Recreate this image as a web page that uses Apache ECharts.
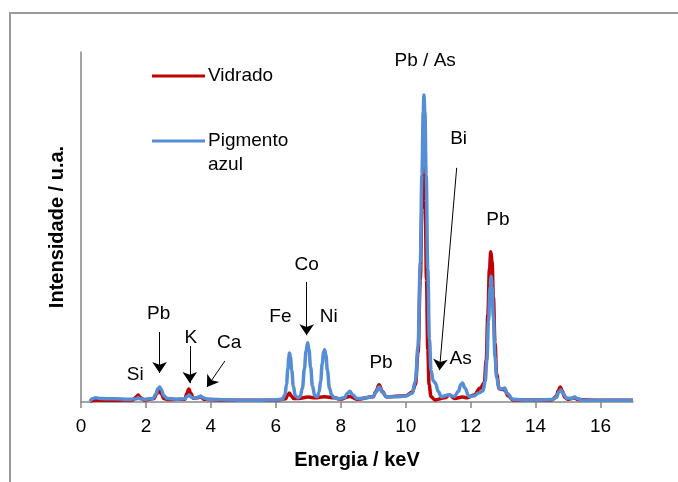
<!DOCTYPE html>
<html>
<head>
<meta charset="utf-8">
<script src="https://cdn.jsdelivr.net/npm/echarts@6/dist/echarts.min.js"></script>
<style>
  html, body { margin: 0; padding: 0; background: #fff; }
  #chart { width: 678px; height: 482px; }
</style>
</head>
<body>
<div id="chart"></div>
<script>
// XRF spectrum: glaze ("Vidrado") vs blue pigment ("Pigmento azul").
// x = energy (keV), y = intensity in arbitrary units (0..100 of axis height).

const ENERGY_TICKS = [0, 2, 4, 6, 8, 10, 12, 14, 16];

const vidrado = [
  [0.28, 0.2], [0.4, 0.5], [1.0, 0.5], [1.6, 0.6], [1.7, 1.4], [1.76, 2.0], [1.82, 1.3], [1.95, 0.6],
  [2.25, 1.0], [2.33, 2.4], [2.4, 3.4], [2.47, 2.4], [2.55, 1.0], [2.7, 0.7], [3.2, 0.8], [3.26, 2.4],
  [3.32, 3.7], [3.38, 2.5], [3.46, 1.1], [3.6, 1.2], [3.68, 1.5], [3.78, 0.8], [4.5, 0.5], [6.0, 0.5],
  [6.3, 0.9], [6.37, 2.0], [6.42, 2.6], [6.47, 1.8], [6.55, 1.0], [6.7, 1.0], [7.0, 1.4], [7.2, 1.2],
  [7.5, 1.5], [7.8, 1.2], [8.0, 0.8], [8.28, 1.6], [8.5, 0.8], [9.0, 1.5], [9.08, 3.0], [9.18, 4.9],
  [9.28, 3.0], [9.4, 1.5], [10.0, 1.8], [10.2, 2.8], [10.3, 5], [10.38, 14], [10.45, 35], [10.5, 55],
  [10.54, 64], [10.57, 66.9], [10.6, 58], [10.64, 35], [10.68, 15], [10.72, 5], [10.78, 1.5], [10.9, 0.6],
  [11.2, 1.2], [11.35, 2.0], [11.5, 1.0], [11.75, 1.4], [11.9, 1.2], [12.1, 2.0], [12.3, 4.0], [12.42, 5.5],
  [12.48, 12], [12.53, 25], [12.58, 38], [12.62, 42.9], [12.66, 40], [12.7, 30], [12.75, 17], [12.8, 8],
  [12.88, 3.8], [13.05, 3.5], [13.15, 1.8], [13.3, 0.6], [14.5, 0.6], [14.64, 1.6], [14.7, 3.2], [14.76, 4.3],
  [14.82, 3.2], [14.9, 1.3], [15.0, 0.8], [15.2, 1.2], [15.3, 0.7], [16.0, 0.5], [17.0, 0.5]
];

const pigmentoAzul = [
  [0.28, 0.2], [0.35, 0.9], [0.45, 1.2], [0.6, 1.0], [1.0, 0.9], [1.5, 0.8], [1.7, 0.9], [1.76, 1.2],
  [1.82, 0.9], [2.0, 0.8], [2.22, 1.0], [2.3, 2.2], [2.37, 3.8], [2.42, 4.3], [2.47, 3.6], [2.55, 1.8],
  [2.65, 1.0], [2.9, 0.8], [3.2, 0.9], [3.27, 1.6], [3.33, 2.0], [3.4, 1.3], [3.55, 1.0], [3.63, 1.5],
  [3.69, 1.7], [3.76, 1.2], [3.9, 0.8], [4.5, 0.6], [5.0, 0.5], [5.5, 0.5], [6.0, 0.6], [6.2, 0.8],
  [6.28, 2], [6.33, 5], [6.37, 9.5], [6.4, 12.8], [6.42, 14.0], [6.45, 12.8], [6.49, 9], [6.54, 4.5],
  [6.6, 1.8], [6.68, 1.2], [6.75, 1.6], [6.82, 4], [6.88, 9.5], [6.93, 14.5], [6.98, 16.9], [7.02, 15],
  [7.07, 10], [7.13, 4.5], [7.2, 1.8], [7.28, 1.6], [7.33, 2.8], [7.38, 6], [7.43, 11], [7.47, 14.2],
  [7.5, 14.9], [7.54, 13.5], [7.59, 9], [7.65, 4], [7.72, 2], [7.8, 1.2], [7.95, 0.9], [8.12, 1.3],
  [8.2, 2.4], [8.28, 3.1], [8.36, 2.1], [8.5, 1.0], [8.8, 1.2], [9.0, 1.6], [9.08, 2.8], [9.18, 4.3],
  [9.28, 2.8], [9.4, 1.5], [9.7, 1.5], [10.0, 1.7], [10.2, 2.5], [10.3, 6], [10.38, 16], [10.45, 40],
  [10.5, 65], [10.54, 83], [10.56, 87.7], [10.59, 83], [10.63, 65], [10.68, 38], [10.73, 18], [10.78, 9],
  [10.85, 6], [10.92, 5.3], [11.0, 3], [11.1, 1.5], [11.3, 2.0], [11.5, 1.6], [11.62, 3], [11.7, 5],
  [11.75, 5.4], [11.82, 4], [11.95, 1.6], [12.1, 1.7], [12.25, 2.6], [12.38, 3.2], [12.45, 6], [12.5, 12],
  [12.55, 23], [12.6, 33], [12.63, 36], [12.66, 33], [12.7, 24], [12.75, 13], [12.8, 7], [12.88, 3.8],
  [12.98, 3.8], [13.05, 4], [13.12, 2.5], [13.3, 0.8], [13.6, 0.6], [14.0, 0.6], [14.5, 0.7], [14.64, 1.3],
  [14.71, 2.8], [14.78, 3.4], [14.85, 2.4], [14.95, 1.1], [15.1, 1.0], [15.2, 1.4], [15.3, 0.9], [15.45, 0.5],
  [16.0, 0.5], [17.0, 0.5]
];

// element labels, anchored in data space [keV, intensity]
const peakLabels = [
  ['Si', 1.67, 7.7], ['Pb', 2.39, 25.1], ['K', 3.38, 18.3], ['Ca', 4.56, 16.9],
  ['Fe', 6.14, 24.3], ['Co', 6.95, 39.1], ['Ni', 7.63, 24.3], ['Pb', 9.24, 11.1],
  ['Pb / As', 10.6, 97.4], ['Bi', 11.63, 75.1], ['As', 11.69, 12.3], ['Pb', 12.84, 52]
];

// pointer arrows: [fromKeV, fromY, toKeV, toY]
const arrows = [
  [2.42, 20, 2.42, 8.3], [3.35, 16, 3.35, 5.4], [4.43, 11.7, 3.88, 4.3],
  [6.95, 34.3, 6.95, 19.1], [11.57, 66.9, 11.04, 9.1]
];

const FONT = '"Liberation Sans", Arial, sans-serif';
const RED = '#C00000';
const BLUE = '#558ED5';
const AXIS = '#868686';

const chart = echarts.init(document.getElementById('chart'), null, { renderer: 'canvas' });

chart.setOption({
  animation: false,
  backgroundColor: '#fff',
  textStyle: { fontFamily: FONT },
  grid: { left: 81, right: 45, top: 52, bottom: 80 },
  xAxis: {
    type: 'value', min: 0, max: 17, interval: 2,
    name: 'Energia / keV', nameLocation: 'middle', nameGap: 48,
    nameTextStyle: { color: '#000', fontSize: 20, fontWeight: 'bold', fontFamily: FONT },
    axisLine: { onZero: false, lineStyle: { color: AXIS, width: 1.5 } },
    axisTick: { length: 6, lineStyle: { color: AXIS, width: 1.5 }, customValues: ENERGY_TICKS },
    axisLabel: { color: '#000', fontSize: 19, margin: 15, fontFamily: FONT, customValues: ENERGY_TICKS },
    splitLine: { show: false }
  },
  yAxis: {
    type: 'value', min: 0, max: 100,
    name: 'Intensidade / u.a.', nameLocation: 'middle', nameGap: 14,
    nameTextStyle: { color: '#000', fontSize: 20, fontWeight: 'bold', fontFamily: FONT },
    axisLine: { show: true, lineStyle: { color: AXIS, width: 1.5 } },
    axisTick: { show: false }, axisLabel: { show: false }, splitLine: { show: false }
  },
  series: [
    {
      name: 'Vidrado', type: 'line', data: vidrado, showSymbol: false,
      smooth: 0.4, smoothMonotone: 'x',
      lineStyle: { color: RED, width: 3.5 }, itemStyle: { color: RED }, z: 2,
      markLine: {
        silent: true, symbol: ['none', 'arrow'], symbolSize: [11, 11],
        label: { show: false },
        lineStyle: { color: '#000', width: 1, type: 'solid' },
        data: arrows.map(a => [{ coord: [a[0], a[1]] }, { coord: [a[2], a[3]] }])
      }
    },
    {
      name: 'Pigmento azul', type: 'line', data: pigmentoAzul, showSymbol: false,
      smooth: 0.4, smoothMonotone: 'x',
      lineStyle: { color: BLUE, width: 3.5 }, itemStyle: { color: BLUE }, z: 3,
      markPoint: {
        silent: true, symbol: 'circle', symbolSize: 0,
        label: {
          show: true, position: 'inside', color: '#000', fontSize: 19, fontFamily: FONT,
          formatter: p => p.name
        },
        data: peakLabels.map(l => ({ name: l[0], coord: [l[1], l[2]] }))
      }
    }
  ],
  graphic: [
    // chart-area frame (only top/left edges visible in the crop)
    { type: 'rect', shape: { x: 10, y: 13, width: 700, height: 500 }, style: { fill: 'none', stroke: '#9a9a9a', lineWidth: 2 }, silent: true },
    // legend
    { type: 'line', shape: { x1: 152, y1: 76, x2: 205, y2: 76 }, style: { stroke: RED, lineWidth: 3 } },
    { type: 'text', x: 208, y: 76, style: { text: 'Vidrado', fill: '#000', font: '19px ' + FONT, verticalAlign: 'middle' } },
    { type: 'line', shape: { x1: 152, y1: 141, x2: 205, y2: 141 }, style: { stroke: BLUE, lineWidth: 3 } },
    { type: 'text', x: 208, y: 141, style: { text: 'Pigmento', fill: '#000', font: '19px ' + FONT, verticalAlign: 'middle' } },
    { type: 'text', x: 208, y: 165, style: { text: 'azul', fill: '#000', font: '19px ' + FONT, verticalAlign: 'middle' } }
  ]
});
</script>
</body>
</html>
